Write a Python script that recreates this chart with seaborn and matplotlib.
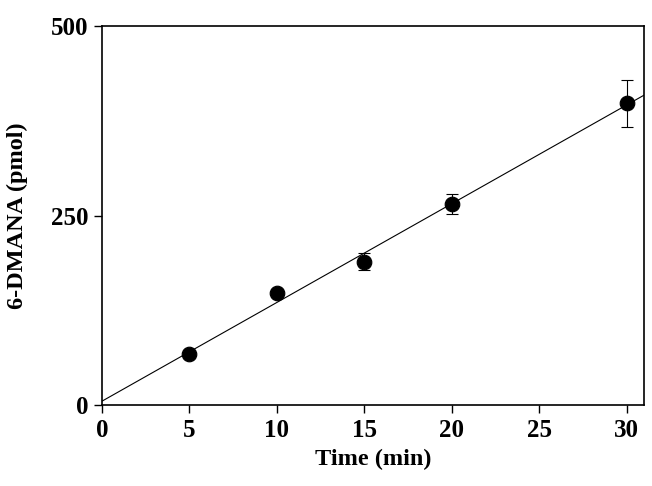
import matplotlib
matplotlib.use("Agg")
import matplotlib.pyplot as plt
import seaborn as sns
import pandas as pd

time_min = [5, 10, 15, 20, 30]
dmana_pmol = [67, 148, 189, 265, 398]
dmana_err = [0, 0, 11, 13, 31]
x_ticks = [0, 5, 10, 15, 20, 25, 30]
y_ticks = [0, 250, 500]

df = pd.DataFrame({"t": time_min, "v": dmana_pmol, "e": dmana_err})

sns.set_theme(style="ticks")
plt.rcParams["font.family"] = ["Liberation Serif", "DejaVu Serif"]
plt.rcParams["text.color"] = "black"
plt.rcParams["axes.labelcolor"] = "black"

fig = plt.figure(figsize=(6.52, 4.86), dpi=100)
ax = fig.add_axes([102/652, 81/486, 542/652, 379/486])
ax.set_xlim(0, 31)
ax.set_ylim(0, 500)

sns.regplot(data=df, x="t", y="v", ax=ax, scatter=False, ci=None,
            truncate=False, color="black", line_kws={"linewidth": 0.8})
ax.errorbar(df["t"], df["v"], yerr=df["e"], fmt="none", ecolor="black",
            elinewidth=0.8, capsize=4, capthick=0.8)
sns.scatterplot(data=df, x="t", y="v", ax=ax, color="black", s=110,
                edgecolor="black", zorder=5)

ax.set_xlim(0, 31)
ax.set_ylim(0, 500)
ax.set_xticks(x_ticks)
ax.set_yticks(y_ticks)
ax.tick_params(direction="out", length=6, width=1, labelsize=18, colors="black",
               top=False, right=False, pad=4)
for lab in ax.get_xticklabels() + ax.get_yticklabels():
    lab.set_fontweight("bold")
for sp in ax.spines.values():
    sp.set_linewidth(1.2)
    sp.set_color("black")
    sp.set_visible(True)

ax.set_xlabel("Time (min)", fontsize=17.5, fontweight="bold", labelpad=5)
ax.set_ylabel("6-DMANA (pmol)", fontsize=17.5, fontweight="bold", labelpad=16)

fig.savefig("out.png", dpi=100)
